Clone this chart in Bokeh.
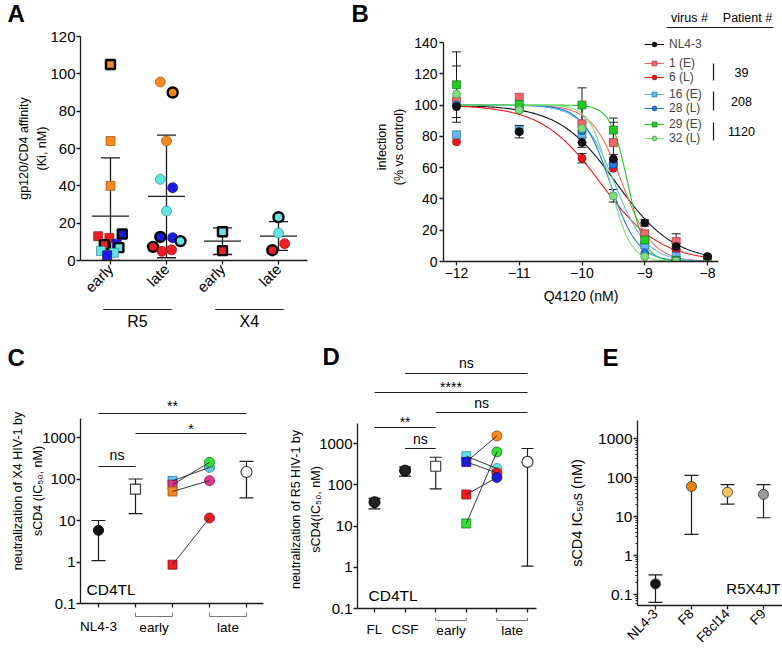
import numpy as np
from bokeh.plotting import figure
from bokeh.layouts import row, column
from bokeh.models import (ColumnDataSource, Whisker, TeeHead, Label, FixedTicker,
                          Range1d, Legend, LegendItem)
from bokeh.embed import file_html
from bokeh.resources import INLINE

FONT = "Liberation Sans"
INK = "#1c1c1c"

# ============================ DATA ============================
# ---- Panel A : gp120/CD4 affinity (Ki, nM)
A_tick_labels = ["early", "late", "early", "late"]
A_coreceptors = ["R5", "X4"]
A_r5_early = [105, 64, 40, 13, 12.1, 8.5, 14.2, 9, 6.9, 5.1, 4.1, 2.8]
A_r5_early_col = ["orange", "orange", "orange", "red", "red", "red", "blue", "blue", "cyan", "cyan", "cyan", "blue"]
A_r5_early_bold = [1, 0, 0, 0, 0, 1, 1, 0, 1, 0, 0, 0]
A_r5_late = [95.6, 90, 64, 43.5, 39, 26.5, 12.6, 12.2, 10.4, 7.3, 4.9, 5.7]
A_r5_late_col = ["orange", "orange", "orange", "cyan", "blue", "cyan", "blue", "blue", "cyan", "red", "red", "red"]
A_r5_late_bold = [0, 1, 0, 0, 0, 0, 1, 0, 1, 1, 0, 0]
A_x4_early = [15.4, 5.3]
A_x4_early_col = ["cyan", "red"]
A_x4_early_bold = [1, 1]
A_x4_late = [23.2, 14.7, 9.0, 5.5]
A_x4_late_col = ["cyan", "cyan", "red", "red"]
A_x4_late_bold = [1, 0, 0, 1]

# ---- Panel B : infection (% vs control) vs log Q4120
B_log_conc = [-12, -11, -10, -9.5, -9, -8.5, -8]
B_labels = ["NL4-3", "1 (E)", "6 (L)", "16 (E)", "28 (L)", "29 (E)", "32 (L)"]
B_patients = ["39", "208", "1120"]
B_nl43 = [99, 83, 76, 65.5, 24.7, 9.6, 3.2]
B_v1E = [102.5, 105, 88, 76, 17.7, 12.8, 2]
B_v6L = [76.5, 97, 66, 59.6, 12, 7.4, 0.6]
B_v16E = [81, 84, 81.5, 63, 10.6, 3.2, 0.3]
B_v28L = [100, 98, 83.6, 62, 5.5, 1, 0.2]
B_v29E = [113, 100.4, 100, 84, 13.8, 0.5, 0]
B_v32L = [107, 96.8, 85, 42, 3.2, 0.3, 0]
B_e_nl43 = [0, 4, 3, 3, 2, 2, 0]
B_e1E = [0, 0, 12, 13, 0, 4.9, 0]
B_e6L = [0, 0, 3, 0, 0, 0, 0]
B_e16E = [0, 0, 0, 0, 0, 0, 0]
B_e28L = [0, 0, 0, 0, 0, 0, 0]
B_e29E = [21, 0, 11, 7.7, 0, 0, 0]
B_e32L = [18, 0, 0, 4, 0, 0, 0]
B_logIC50 = [-9.45, -9.36, -9.7, -9.48, -9.55, -9.27, -9.55]
B_hill = [0.95, 1.8, 0.92, 1.7, 2.0, 3.17, 2.74]

# ---- Panel C : X4 neutralization by sCD4 (IC50, nM)
C_bottom_labels = ["NL4-3", "early", "late"]
C_nl43 = [5.8]
C_nl43_lo = [1.08]
C_nl43_hi = [10]
C_early_summary = [57]
C_early_summary_lo = [14.6]
C_early_summary_hi = [100]
C_early = [90, 73, 50, 0.86]
C_early_col = ["lblue", "magenta", "orange", "red"]
C_late = [191, 252, 91, 11.5]
C_late_col = ["lblue", "green", "magenta", "red"]
C_links = [(0, 0), (1, 1), (2, 2), (3, 3)]
C_late_summary = [147]
C_late_summary_lo = [35]
C_late_summary_hi = [267]
C_sig = [(0, 4, "**"), (1, 4, "*"), (0, 1, "ns")]

# ---- Panel D : R5 neutralization by sCD4 (IC50, nM)
D_bottom_labels = ["FL", "CSF", "early", "late"]
D_ref = [37.7, 220]
D_ref_lo = [26, 161]
D_ref_hi = [47, 270]
D_early_summary = [281]
D_early_summary_lo = [79]
D_early_summary_hi = [464]
D_early = [492, 358, 58, 11.5]
D_early_col = ["cyan", "blue", "red", "green"]
D_late = [1530, 625, 248, 194, 150]
D_late_col = ["orange", "green", "cyan", "red", "blue"]
D_links = [(1, 0), (0, 2), (1, 3), (2, 4), (3, 1)]
D_late_summary = [358]
D_late_summary_lo = [1.06]
D_late_summary_hi = [757]
D_sig = [(1, 5, "ns"), (0, 5, "****"), (2, 5, "ns"), (0, 2, "**"), (1, 2, "ns")]

# ---- Panel E : sCD4 IC50s (nM), R5X4JT
E_cats = ["NL4-3", "F8", "F8cl14", "F9"]
E_vals = [0.187, 59, 42, 37]
E_lo = [0.063, 3.5, 20.8, 9.3]
E_hi = [0.32, 114, 65.5, 65.5]

# ============================ STYLE ============================
PAL = {"orange": "#F7891F", "red": "#EE1D23", "blue": "#1B1BE6", "cyan": "#64E4E4",
       "lblue": "#5EC6F2", "magenta": "#E5328C", "green": "#36E036"}
EDGE = {"orange": "#9A5210", "red": "#8E1014", "blue": "#0E0E80", "cyan": "#2C8C8C",
        "lblue": "#2C6E90", "magenta": "#84184E", "green": "#187A18"}
E_fill = ["#111111", "#F07F12", "#F9C35C", "#9A9A9A"]
B_col = ["#111111", "#F26868", "#F01515", "#63B8EE", "#2078E0", "#22CC22", "#80DE80"]
B_edge = ["#000000", "#A83434", "#900808", "#2E6E98", "#104890", "#127A12", "#3E8E3E"]
B_marker = ["circle", "square", "circle", "square", "circle", "square", "circle"]

A_jit = [[0, 0, 0, -0.22, -0.02, -0.11, 0.21, 0.11, 0.15, -0.17, 0.06, -0.06],
         [-0.11, 0.11, 0, -0.11, 0.11, 0, -0.11, 0.11, 0.25, -0.24, -0.08, 0.09],
         [0, 0],
         [0, 0, 0.11, -0.11]]


def style(p, tick_fs, label_fs, tick_out=5, line_h=1.3):
    p.outline_line_color = None
    p.grid.visible = False
    for ax in p.axis:
        ax.axis_line_color = INK
        ax.axis_line_width = 1.3
        ax.major_tick_line_color = INK
        ax.major_tick_line_width = 1.3
        ax.major_tick_in = 0
        ax.major_tick_out = tick_out
        ax.minor_tick_line_color = None
        ax.major_label_text_font = FONT
        ax.major_label_text_font_size = tick_fs
        ax.major_label_text_color = "black"
        ax.major_label_standoff = 2
        ax.axis_label_text_font = FONT
        ax.axis_label_text_font_size = label_fs
        ax.axis_label_text_font_style = "normal"
        ax.axis_label_text_color = "black"
        ax.axis_label_text_line_height = line_h


def lab(p, x, y, text, size="15px", align="center", bold=False):
    p.add_layout(Label(x=x, y=y, text=text, text_font=FONT, text_font_size=size,
                       text_align=align, text_baseline="middle", text_color="black",
                       text_font_style="bold" if bold else "normal"))


def lines(p, x0, y0, x1, y1, w=1.2, color=INK):
    p.segment(x0, y0, x1, y1, line_color=color, line_width=w)


def whiskers(p, xs, lo, hi, cap, w=1.2):
    src = ColumnDataSource(dict(x=xs, lo=lo, hi=hi))
    p.add_layout(Whisker(source=src, base="x", lower="lo", upper="hi", line_color=INK, line_width=w,
                         upper_head=TeeHead(size=cap, line_color=INK, line_width=w),
                         lower_head=TeeHead(size=cap, line_color=INK, line_width=w)))


def main_fig(w, h, xr, yr, borders, log=False):
    return figure(width=w, height=h, x_range=Range1d(*xr), y_range=Range1d(*yr),
                  y_axis_type="log" if log else "linear",
                  output_backend="svg", toolbar_location=None,
                  min_border_left=borders[0], min_border_right=borders[1],
                  min_border_top=borders[2], min_border_bottom=borders[3])


def strip(w, h, xr, yr):
    # annotation strip without axes: its frame fills the whole figure
    p = figure(width=w, height=h, x_range=Range1d(*xr), y_range=Range1d(*yr),
               x_axis_location=None, y_axis_location=None, output_backend="svg",
               toolbar_location=None, min_border=0)
    p.outline_line_color = None
    p.grid.visible = False
    return p


DECADES = [0.1, 1, 10, 100, 1000]
DEC_LABELS = {0.1: "0.1", 1: "1", 10: "10", 100: "100", 1000: "1000"}
LETTER = "24px"

# ============================ PANEL A ============================
AX = lambda px: (px - 110) / 56.0
AY = lambda py: (262 - py) * 120 / 226.0
pA = main_fig(338, 278, (AX(80), AX(307)), (0, 120), (80, 31, 10, 42))
style(pA, "15px", "12.5px", tick_out=4, line_h=1.3)
pA.yaxis.ticker = FixedTicker(ticks=list(range(0, 121, 20)))
pA.xaxis.ticker = FixedTicker(ticks=[0, 1, 2, 3])
pA.xaxis.major_label_overrides = {i: t for i, t in enumerate(A_tick_labels)}
pA.xaxis.major_label_orientation = np.pi / 4
pA.yaxis.axis_label = "gp120/CD4 affinity\n(Ki, nM)"
pA.yaxis.major_label_standoff = 1
pA.yaxis.axis_label_standoff = -2

A_sets = [(A_r5_early, A_r5_early_col, A_r5_early_bold, "square", 9),
          (A_r5_late, A_r5_late_col, A_r5_late_bold, "circle", 10),
          (A_x4_early, A_x4_early_col, A_x4_early_bold, "square", 9),
          (A_x4_late, A_x4_late_col, A_x4_late_bold, "circle", 10)]
means = np.array([np.mean(s[0]) for s in A_sets])
sds = np.array([np.std(s[0], ddof=1) for s in A_sets])
pos = np.arange(4)
pA.segment(list(pos - 0.33), list(means), list(pos + 0.33), list(means), line_color=INK, line_width=1.3)
whiskers(pA, list(pos), list(np.maximum(means - sds, 0)), list(means + sds), 19, w=1.3)
for gi, (vals, cols, bold, marker, size) in enumerate(A_sets):
    src = ColumnDataSource(dict(
        x=[gi + j for j in A_jit[gi]], y=vals,
        fc=[PAL[c] for c in cols],
        lc=["black" if b else EDGE[c] for c, b in zip(cols, bold)],
        lw=[2.4 if b else 0.7 for b in bold]))
    pA.scatter("x", "y", source=src, marker=marker, size=size, fill_color="fc",
               line_color="lc", line_width="lw")

sA_top = strip(338, 26, (0, 338), (26, 0))
lab(sA_top, 7, 13, "A", size=LETTER, align="left", bold=True)
sA_bot = strip(338, 34, (AX(0), AX(338)), (338, 304))
for gi, name in enumerate(A_coreceptors):
    a, b = 2 * gi, 2 * gi + 1
    lines(sA_bot, [a - 0.13], [309], [b + 0.09], [309], w=1.2)
    lab(sA_bot, (a - 0.13 + b + 0.09) / 2, 321, name, size="16px")

# ============================ PANEL B ============================
BX = lambda px: -12 + (px - 456) / 62.75
BY = lambda py: (261 - py) * 140 / 219.0
pB = main_fig(385, 306, (BX(443), BX(718)), (0, BY(32)), (105, 5, 0, 77))
style(pB, "14px", "12.5px", tick_out=4, line_h=1.2)
pB.yaxis.bounds = (0, 140)
pB.xaxis.ticker = FixedTicker(ticks=[-12, -11, -10, -9, -8])
pB.yaxis.ticker = FixedTicker(ticks=list(range(0, 141, 20)))
pB.xaxis.axis_label = "Q4120 (nM)"
pB.xaxis.axis_label_text_font_size = "14px"
pB.yaxis.axis_label = "infection\n(% vs control)"
pB.xaxis.axis_label_standoff = 7
pB.yaxis.axis_label_standoff = 5

B_values = [B_nl43, B_v1E, B_v6L, B_v16E, B_v28L, B_v29E, B_v32L]
B_errors = [B_e_nl43, B_e1E, B_e6L, B_e16E, B_e28L, B_e29E, B_e32L]
xs_fit = np.linspace(-12, -8, 241)
line_r = []
for i in range(len(B_labels)):
    yfit = 100.0 / (1 + 10 ** (B_hill[i] * (xs_fit - B_logIC50[i])))
    line_r.append(pB.line(xs_fit, yfit, line_color=B_col[i], line_width=1.1))
wx, wlo, whi = [], [], []
for vals, errs in zip(B_values, B_errors):
    for x, v, e in zip(B_log_conc, vals, errs):
        if e > 0:
            wx.append(x); wlo.append(v - e); whi.append(v + e)
whiskers(pB, wx, wlo, whi, 9, w=1.0)
pts = {}
for i in [1, 2, 3, 4, 5, 6, 0]:
    pts[i] = pB.scatter(B_log_conc, B_values[i], marker=B_marker[i], size=8,
                        fill_color=B_col[i], line_color=B_edge[i], line_width=0.7)
groups = [[0], [1, 2], [3, 4], [5, 6]]
group_bottom_py = [51, 83.5, 115, 144.5]
for g, bpy in zip(groups, group_bottom_py):
    leg = Legend(items=[LegendItem(label=B_labels[i], renderers=[line_r[i], pts[i]]) for i in g],
                 location=(644 - 443, 261 - bpy), orientation="vertical", padding=0, margin=0,
                 spacing=0, glyph_width=20, glyph_height=12, label_height=12, label_standoff=5,
                 label_text_font=FONT, label_text_font_size="12px", border_line_color=None,
                 background_fill_alpha=0)
    pB.add_layout(leg)
bar_spans = [(63, 80), (91, 110), (122, 140)]
lines(pB, [BX(713)] * 3, [BY(a) for a, b in bar_spans], [BX(713)] * 3, [BY(b) for a, b in bar_spans], w=1.2)

sB_top = strip(444, 32, (338, 782), (32, 0))
lab(sB_top, 351, 13, "B", size=LETTER, align="left", bold=True)
lab(sB_top, 689, 17, "virus #", size="12.5px")
lab(sB_top, 747, 17, "Patient #", size="12.5px")
lines(sB_top, [666], [27], [773], [27], w=1.2)
sB_right = strip(59, 306, (723, 782), (338, 32))
for name, (y0, y1) in zip(B_patients, bar_spans):
    lab(sB_right, 741, (y0 + y1) / 2, name, size="12.5px")

# ============================ PANEL C ============================
CX = lambda px: (px - 98) / 37.0
CY = lambda py: 10 ** (-1 + (603 - py) / 41.5)
C_BOT = 612
pC = main_fig(278, C_BOT - 378, (CX(80), CX(263)), (CY(603), CY(378)), (80, 15, 0, C_BOT - 603), log=True)
style(pC, "15px", "12.5px", tick_out=4, line_h=1.45)
pC.yaxis.bounds = (CY(603), CY(418))
pC.yaxis.ticker = FixedTicker(ticks=DECADES)
pC.yaxis.major_label_overrides = DEC_LABELS
pC.yaxis.major_label_standoff = 1
pC.yaxis.axis_label_standoff = -6
pC.yaxis.axis_label = "neutralization of X4 HIV-1 by\nsCD4 (IC\u2085\u2080, nM)"
pC.xaxis.ticker = FixedTicker(ticks=[0, 1, 2, 3, 4])
pC.xaxis.major_label_overrides = {i: "" for i in range(5)}
pC.xaxis.major_label_text_font_size = "1px"
pC.xaxis.major_label_standoff = 0

whiskers(pC, [0, 1, 4], C_nl43_lo + C_early_summary_lo + C_late_summary_lo,
         C_nl43_hi + C_early_summary_hi + C_late_summary_hi, 14)
pC.scatter([0], C_nl43, marker="circle", size=10, fill_color="#111111", line_color="black")
pC.scatter([1], C_early_summary, marker="square", size=10, fill_color="white", line_color="#333333", line_width=1.1)
pC.scatter([4], C_late_summary, marker="circle", size=11, fill_color="white", line_color="#333333", line_width=1.1)
pC.scatter([2] * len(C_early), C_early, marker="square", size=9,
           fill_color=[PAL[c] for c in C_early_col], line_color=[EDGE[c] for c in C_early_col], line_width=0.8)
pC.scatter([3] * len(C_late), C_late, marker="circle", size=10,
           fill_color=[PAL[c] for c in C_late_col], line_color=[EDGE[c] for c in C_late_col], line_width=0.8)
pC.segment([2] * len(C_links), [C_early[a] for a, b in C_links], [3] * len(C_links),
           [C_late[b] for a, b in C_links], line_color="#222222", line_width=0.9)
for (x0, x1, t), lvl, ty in zip(C_sig, [413, 433, 466], [405, 428, 454]):
    lines(pC, [x0], [CY(lvl)], [x1], [CY(lvl)], w=1.2)
    lab(pC, (x0 + x1) / 2, CY(ty), t, size="14px")
lab(pC, CX(86), CY(589), "CD4TL", size="15.5px", align="left")

sC_top = strip(278, 40, (0, 278), (378, 338))
lab(sC_top, 7, 357, "C", size=LETTER, align="left", bold=True)
sC_bot = strip(278, 654 - C_BOT, (CX(0), CX(278)), (654, C_BOT))
lab(sC_bot, 0, 626, C_bottom_labels[0], size="13.5px")
for (a, b), t in zip([(1, 2), (3, 4)], C_bottom_labels[1:]):
    lines(sC_bot, [a, a, b], [616, 616, 616], [b, a, b], [616, C_BOT, C_BOT], w=1.0, color="#777777")
    lab(sC_bot, (a + b) / 2, 627, t, size="13.5px")

# ============================ PANEL D ============================
DX = lambda px: (px - 374) / 30.6
DY = lambda py: 10 ** (-1 + (608 - py) / 41.25)
D_TOP = 410
D_BOT = 617
pD = main_fig(260, D_BOT - D_TOP, (DX(357), DX(536)), (DY(608), DY(D_TOP)), (79, 2, 0, D_BOT - 608), log=True)
style(pD, "15px", "12.5px", tick_out=4, line_h=1.45)
pD.yaxis.bounds = (DY(608), DY(423))
pD.yaxis.ticker = FixedTicker(ticks=DECADES)
pD.yaxis.major_label_overrides = DEC_LABELS
pD.yaxis.major_label_standoff = 1
pD.yaxis.axis_label_standoff = -7
pD.yaxis.axis_label = "neutralization of R5 HIV-1 by\nsCD4(IC\u2085\u2080, nM)"
pD.xaxis.ticker = FixedTicker(ticks=[0, 1, 2, 3, 4, 5])
pD.xaxis.major_label_overrides = {i: "" for i in range(6)}
pD.xaxis.major_label_text_font_size = "1px"
pD.xaxis.major_label_standoff = 0

whiskers(pD, [0, 1, 2, 5], D_ref_lo + D_early_summary_lo + D_late_summary_lo,
         D_ref_hi + D_early_summary_hi + D_late_summary_hi, 12)
pD.scatter([0, 1], D_ref, marker="circle", size=11, fill_color="#222222", line_color="black")
pD.scatter([2], D_early_summary, marker="square", size=10, fill_color="white", line_color="#333333", line_width=1.1)
pD.scatter([5], D_late_summary, marker="circle", size=11, fill_color="white", line_color="#333333", line_width=1.1)
pD.scatter([3] * len(D_early), D_early, marker="square", size=9,
           fill_color=[PAL[c] for c in D_early_col], line_color=[EDGE[c] for c in D_early_col], line_width=0.8)
pD.scatter([4] * len(D_late), D_late, marker="circle", size=10,
           fill_color=[PAL[c] for c in D_late_col], line_color=[EDGE[c] for c in D_late_col], line_width=0.8)
pD.segment([3] * len(D_links), [D_early[a] for a, b in D_links], [4] * len(D_links),
           [D_late[b] for a, b in D_links], line_color="#222222", line_width=0.9)
lab(pD, DX(368), DY(595), "CD4TL", size="15.5px", align="left")

sD_top = strip(260, D_TOP - 338, (DX(278), DX(538)), (D_TOP, 338))
lab(sD_top, DX(322), 356, "D", size=LETTER, align="left", bold=True)
for (x0, x1, t), lvl, ty in zip(D_sig, [373, 392, 412, 427, 448], [362, 386, 402, 421, 438]):
    if lvl < D_TOP:
        lines(sD_top, [x0], [lvl], [x1], [lvl], w=1.2)
    else:
        lines(pD, [x0], [DY(lvl)], [x1], [DY(lvl)], w=1.2)
    if ty + 7 <= D_TOP:
        lab(sD_top, (x0 + x1) / 2, ty, t, size="14px")
    else:
        lab(pD, (x0 + x1) / 2, DY(ty), t, size="14px")
sD_bot = strip(260, 654 - D_BOT, (DX(278), DX(538)), (654, D_BOT))
for i, t in enumerate(D_bottom_labels[:2]):
    lab(sD_bot, i, 629, t, size="13.5px")
for (a, b), t in zip([(2, 3), (4, 5)], D_bottom_labels[2:]):
    lines(sD_bot, [a, a, b], [620, 620, 620], [b, a, b], [620, D_BOT, D_BOT], w=1.0, color="#777777")
    lab(sD_bot, (a + b) / 2, 630, t, size="13.5px")

# ============================ PANEL E ============================
EX = lambda px: (px - 655) / 36.0
EY = lambda py: 10 ** (-1 + (594 - py) / 39.0)
pE = main_fig(244, 244, (EX(637), EX(782)), (EY(605), EY(420)), (99, 0, 10, 49), log=True)
style(pE, "15.5px", "14.5px", tick_out=4)
pE.yaxis.ticker = FixedTicker(ticks=DECADES,
                              minor_ticks=[k * 10.0 ** e for e in range(-2, 3) for k in range(2, 10)])
pE.yaxis.minor_tick_line_color = INK
pE.yaxis.minor_tick_in = 0
pE.yaxis.minor_tick_out = 2
pE.yaxis.major_label_overrides = DEC_LABELS
pE.yaxis.major_label_standoff = 1
pE.yaxis.axis_label_standoff = 10
pE.yaxis.axis_label = "sCD4 IC\u2085\u2080s (nM)"
pE.xaxis.ticker = FixedTicker(ticks=list(range(len(E_cats))))
pE.xaxis.major_label_overrides = {i: c for i, c in enumerate(E_cats)}
pE.xaxis.major_label_orientation = np.pi / 4
pE.xaxis.major_label_text_font_size = "13.5px"
whiskers(pE, list(range(len(E_cats))), E_lo, E_hi, 14)
pE.scatter(list(range(len(E_cats))), E_vals, marker="circle", size=10, fill_color=E_fill,
           line_color="#333333", line_width=0.8)
lab(pE, EX(780), EY(588), "R5X4JT", size="15px", align="right")
sE_top = strip(244, 72, (538, 782), (410, 338))
lab(sE_top, 602, 357, "E", size=LETTER, align="left", bold=True)

# each main plot is wrapped in its own row so that its frame is not aligned with the strips
layout = column(
    row(column(sA_top, row(pA), sA_bot),
        column(sB_top, row(column(pB), sB_right))),
    row(column(sC_top, row(pC), sC_bot),
        column(sD_top, row(pD), sD_bot),
        column(sE_top, row(pE))),
)
open("out.html", "w").write(file_html(layout, INLINE, title="HIV-1 sCD4 figure"))
